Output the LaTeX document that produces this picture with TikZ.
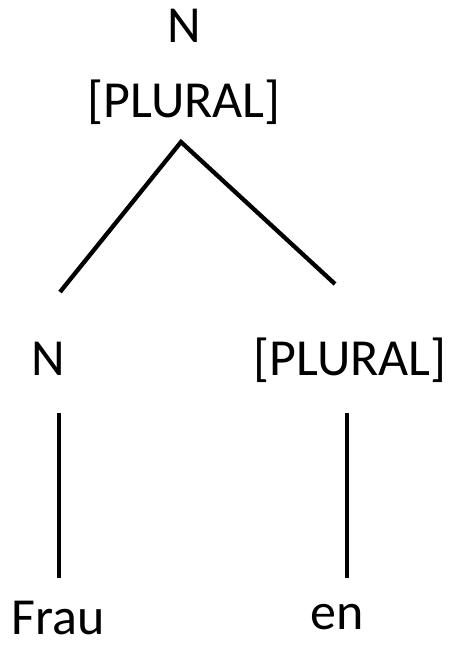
\documentclass[tikz,border=0pt]{standalone}
\usepackage{fontspec}
\setmainfont{Carlito}
\begin{document}
\begin{tikzpicture}[x=1pt,y=-1pt,
  lbl/.style={anchor=base,inner sep=0pt,font=\fontsize{52}{60}\selectfont},
  edge/.style={line width=4.3pt}]
\useasboundingbox (0,0) rectangle (454,647);
\node[lbl] (topN) at (184,43) {N};
\node[lbl] (topP) at (184,118) {[PLURAL]};
\node[lbl] (leftN) at (48,375) {N};
\node[lbl] (rightP) at (350,375) {[PLURAL]};
\node[lbl,text depth=0pt] (frau) at (58,634) {Frau};
\node[lbl,text depth=0pt] (en) at (337,629) {en};
\coordinate (apex) at (181,142);
\coordinate (lend) at (60,292);
\coordinate (rend) at (335,284);
\coordinate (lvt) at (59,413);
\coordinate (lvb) at (59,578);
\coordinate (rvt) at (347,413);
\coordinate (rvb) at (347,578);
\draw[edge] (lend) -- (apex) -- (rend);
\draw[edge] (lvt) -- (lvb);
\draw[edge] (rvt) -- (rvb);
\end{tikzpicture}
\end{document}
